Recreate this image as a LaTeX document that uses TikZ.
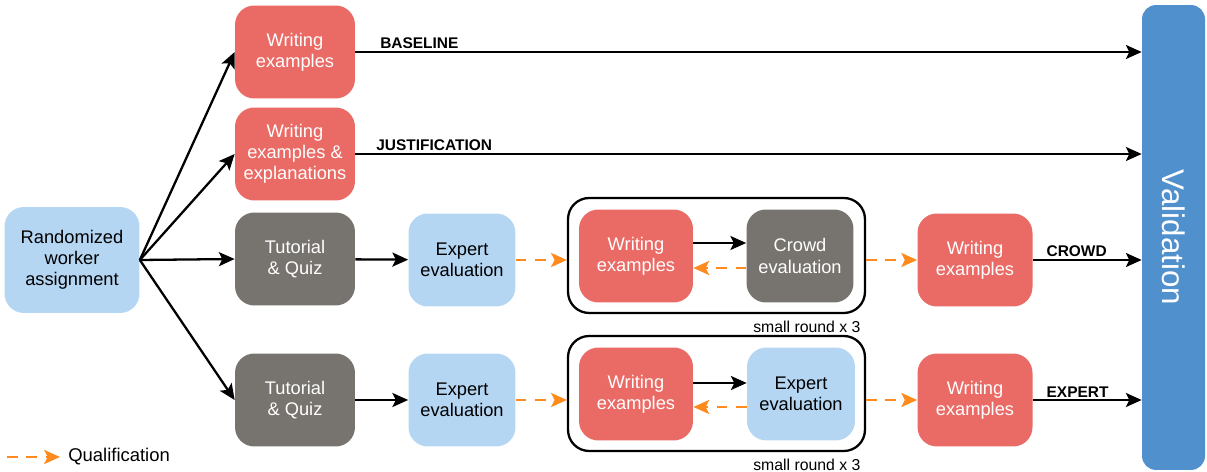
\documentclass[tikz,border=0pt]{standalone}
\usepackage{fontspec}
\setmainfont{Liberation Sans}
\usetikzlibrary{arrows.meta}
\definecolor{wred}{HTML}{EA6B66}
\definecolor{qgray}{HTML}{77736E}
\definecolor{lblue}{HTML}{B5D6F3}
\definecolor{vblue}{HTML}{4F90CD}
\definecolor{qorange}{HTML}{FF8A1E}
\tikzset{%
  box/.style={rounded corners=11pt,minimum width=2.4cm,minimum height=1.86cm,align=center,font=\fontsize{10.4}{12}\selectfont,inner sep=1pt},
  wbox/.style={box,fill=wred,text=white},
  gbox/.style={box,fill=qgray,text=white},
  ebox/.style={box,fill=lblue,text=black},
  roundbox/.style={draw,line width=1.3pt,rounded corners=12pt,minimum width=5.94cm,minimum height=2.3cm},
  flow/.style={draw,-{Stealth[length=9pt,width=8pt,inset=2pt]},line width=1.3pt},
  qual/.style={draw=qorange,-{Stealth[length=9pt,width=8pt,inset=2pt]},line width=1.3pt,dash pattern=on 6pt off 5pt},
  tag/.style={font=\fontsize{8.8}{10}\selectfont\bfseries,inner sep=1pt,anchor=south west},
  roundtag/.style={font=\fontsize{9}{10}\selectfont,inner sep=1pt}
}
\begin{document}
\begin{tikzpicture}[x=0.02cm,y=-0.02cm]
    \useasboundingbox (0,0) rectangle (1207,472);
    % nodes
    \path
      (72,260) node[ebox,minimum width=2.7cm,minimum height=2.12cm] (rwa) {Randomized\\worker\\assignment}
      (295,52) node[wbox] (wb) {Writing\\examples}
      (295,154) node[wbox] (wj) {Writing\\examples \&\\explanations}
      (295,259) node[gbox] (tq1) {Tutorial\\\& Quiz}
      (295,400) node[gbox] (tq2) {Tutorial\\\& Quiz}
      (462,260) node[ebox,minimum width=2.14cm] (ee1) {Expert\\evaluation}
      (462,400) node[ebox,minimum width=2.14cm] (ee2) {Expert\\evaluation}
      (716.5,255.5) node[roundbox] (rnd1) {}
      (716.5,393.5) node[roundbox] (rnd2) {}
      (636,256) node[wbox,minimum width=2.28cm] (we1) {Writing\\examples}
      (800,256) node[gbox,minimum width=2.14cm] (ce1) {Crowd\\evaluation}
      (636,394) node[wbox,minimum width=2.28cm] (we2) {Writing\\examples}
      (801,394) node[ebox,minimum width=2.16cm] (ce2) {Expert\\evaluation}
      (975,260) node[wbox,minimum width=2.3cm] (wf1) {Writing\\examples}
      (975,400) node[wbox,minimum width=2.3cm] (wf2) {Writing\\examples}
      (1173.5,237.5) node[fill=vblue,rounded corners=8pt,minimum width=1.26cm,minimum height=9.3cm] (val) {}
      (val.center) node[rotate=-90,text=white,font=\fontsize{17.8}{20}\selectfont] (valtxt) {Validation};
    \node[roundtag,anchor=north east] (r1tag) at ([xshift=-2pt,yshift=-3pt]rnd1.south east) {small round x 3};
    \node[roundtag,anchor=north east] (r2tag) at ([xshift=-2pt,yshift=-3pt]rnd2.south east) {small round x 3};
    % assignment
    \draw[flow] (rwa.east) -- (wb.west);
    \draw[flow] (rwa.east) -- (wj.west);
    \draw[flow] (rwa.east) -- (tq1.west);
    \draw[flow] (rwa.east) -- (tq2.west);
    % conditions
    \draw[flow] (wb.east) -- node[tag,pos=0.028] (lb) {BASELINE} (wb.east -| val.west);
    \draw[flow] (wj.east) -- node[tag,pos=0.023] (lj) {JUSTIFICATION} (wj.east -| val.west);
    \draw[flow] (tq1) -- (ee1);
    \draw[flow] (tq2) -- (ee2);
    \draw[qual] (ee1) -- (ee1 -| rnd1.west);
    \draw[qual] (ee2) -- (ee2 -| rnd2.west);
    \draw[flow] ([yshift=0.26cm]we1.east) -- ([yshift=0.26cm]we1.east -| ce1.west);
    \draw[qual] ([yshift=-0.24cm]ce1.west) -- ([yshift=-0.24cm]ce1.west -| we1.east);
    \draw[flow] ([yshift=0.22cm]we2.east) -- ([yshift=0.22cm]we2.east -| ce2.west);
    \draw[qual] ([yshift=-0.26cm]ce2.west) -- ([yshift=-0.26cm]ce2.west -| we2.east);
    \draw[qual] (wf1 -| rnd1.east) -- (wf1.west);
    \draw[qual] (wf2 -| rnd2.east) -- (wf2.west);
    \draw[flow] (wf1.east) -- node[tag,pos=0.1] (lc) {CROWD} (wf1.east -| val.west);
    \draw[flow] (wf2.east) -- node[tag,pos=0.1] (le) {EXPERT} (wf2.east -| val.west);
    % legend
    \coordinate (q1) at (7,457);
    \coordinate (q2) at (60,457);
    \draw[qual] (q1) -- (q2);
    \node[anchor=west,inner sep=0pt,font=\fontsize{10.5}{12}\selectfont] (ql) at (68,457) {Qualification};
  \end{tikzpicture}
\end{document}
